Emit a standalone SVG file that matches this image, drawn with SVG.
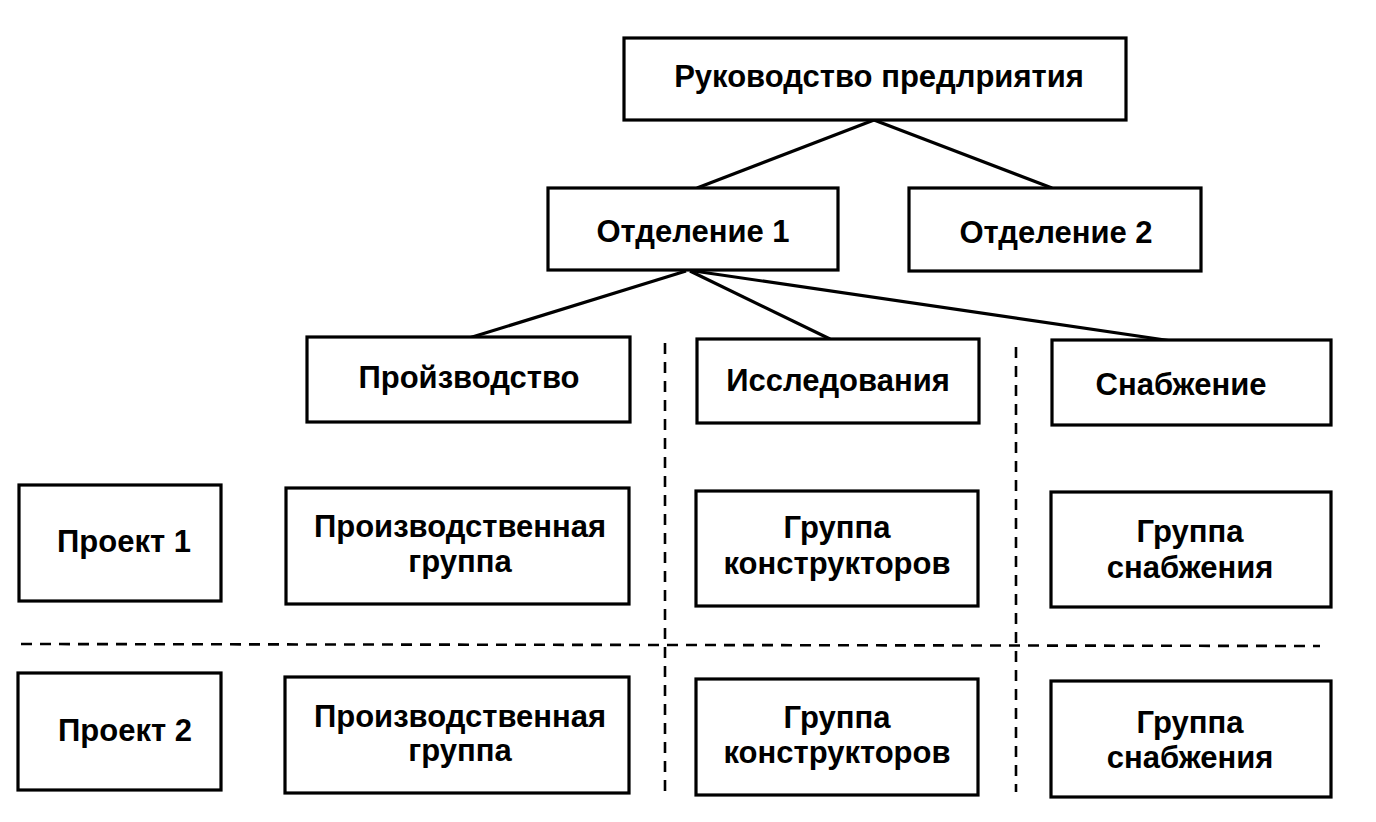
<svg xmlns="http://www.w3.org/2000/svg" width="1376" height="822" viewBox="0 0 1376 822">
<style>
.box{fill:#fff;stroke:#000;stroke-width:3.2}
.t{font-family:"Liberation Sans",Arial,sans-serif;font-weight:bold;font-size:31px;text-anchor:middle;fill:#000}
.ln{stroke:#000;stroke-width:3.2;fill:none}
.dash{stroke:#000;stroke-width:2.6;fill:none;stroke-dasharray:11 8}
</style>
<rect width="1376" height="822" fill="#fff"/>
<g id="connectors">
<line class="ln" x1="874" y1="120" x2="697" y2="188"/>
<line class="ln" x1="874" y1="120" x2="1052" y2="188"/>
<line class="ln" x1="686" y1="271" x2="469" y2="338"/>
<line class="ln" x1="690" y1="271" x2="830" y2="339"/>
<line class="ln" x1="694" y1="271" x2="1172" y2="341"/>
<line class="dash" x1="665" y1="343" x2="665" y2="792"/>
<line class="dash" x1="1016" y1="347" x2="1016" y2="792"/>
<line class="dash" x1="21" y1="644" x2="1320" y2="646"/>
</g>
<g id="n_top"><rect class="box" x="624" y="38" width="502" height="82"/><text class="t" x="879" y="87">Руководство предлриятия</text></g>
<g id="n_otd1"><rect class="box" x="548" y="188" width="290" height="82"/><text class="t" x="693" y="242">Отделение 1</text></g>
<g id="n_otd2"><rect class="box" x="909" y="188" width="292" height="83"/><text class="t" x="1056" y="243">Отделение 2</text></g>
<g id="n_proizv"><rect class="box" x="307" y="337" width="323" height="85"/><text class="t" x="469" y="388">Пройзводство</text></g>
<g id="n_issl"><rect class="box" x="697" y="339" width="282" height="84"/><text class="t" x="838" y="391">Исследования</text></g>
<g id="n_snab"><rect class="box" x="1052" y="340" width="279" height="85"/><text class="t" x="1181" y="395">Снабжение</text></g>
<g id="n_pr1"><rect class="box" x="19" y="485" width="202" height="116"/><text class="t" x="124" y="552">Проект 1</text></g>
<g id="n_pg1"><rect class="box" x="286" y="488" width="343" height="116"/><text class="t" x="460" y="537">Производственная</text><text class="t" x="460" y="572">группа</text></g>
<g id="n_gk1"><rect class="box" x="696" y="491" width="282" height="115"/><text class="t" x="837" y="538">Группа</text><text class="t" x="837" y="574">конструкторов</text></g>
<g id="n_gs1"><rect class="box" x="1051" y="492" width="280" height="115"/><text class="t" x="1190" y="542">Группа</text><text class="t" x="1190" y="578">снабжения</text></g>
<g id="n_pr2"><rect class="box" x="18" y="673" width="203" height="117"/><text class="t" x="125" y="741">Проект 2</text></g>
<g id="n_pg2"><rect class="box" x="285" y="677" width="344" height="116"/><text class="t" x="460" y="727">Производственная</text><text class="t" x="460" y="761">группа</text></g>
<g id="n_gk2"><rect class="box" x="696" y="679" width="282" height="116"/><text class="t" x="837" y="728">Группа</text><text class="t" x="837" y="763">конструкторов</text></g>
<g id="n_gs2"><rect class="box" x="1051" y="681" width="280" height="116"/><text class="t" x="1190" y="733">Группа</text><text class="t" x="1190" y="768">снабжения</text></g>
</svg>
